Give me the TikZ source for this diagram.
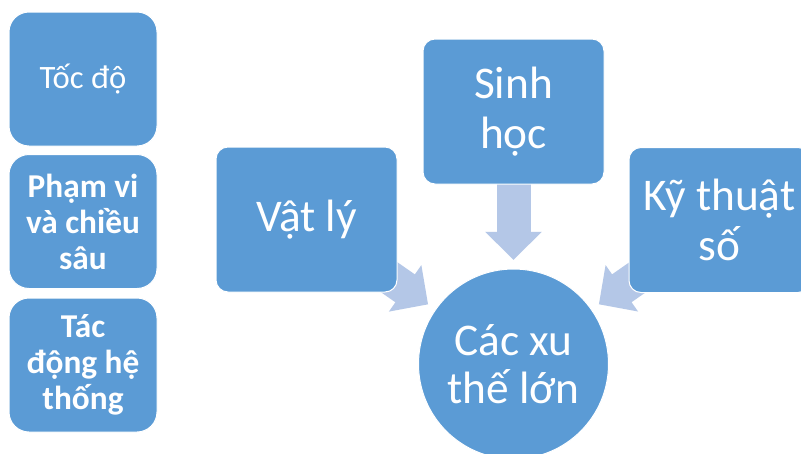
\documentclass[tikz,border=0pt]{standalone}
\usepackage{fontspec}
\setmainfont{Carlito}
\usetikzlibrary{arrows.meta,backgrounds}
\definecolor{boxblue}{HTML}{5B9BD5}
\definecolor{arrowblue}{HTML}{B4C7E7}
\begin{document}
\begin{tikzpicture}[x=0.75pt,y=-0.75pt,
  smallbox/.style={rectangle, rounded corners=15pt, fill=boxblue, draw=white, line width=0.75pt,
    minimum width=111pt, minimum height=100.5pt, text=white, align=center, inner sep=0pt,
    font=\fontsize{24.5}{27}\selectfont},
  boldbox/.style={smallbox, font=\fontsize{25}{27}\selectfont\bfseries},
  bigbox/.style={rectangle, rounded corners=9pt, fill=boxblue, draw=white, line width=0.75pt,
    minimum width=135.75pt, minimum height=108.75pt, text=white, align=center, inner sep=0pt,
    font=\fontsize{34}{37.5}\selectfont},
  bigcircle/.style={circle, fill=boxblue, draw=white, line width=0.75pt, minimum size=142.5pt,
    text=white, align=center, inner sep=0pt, font=\fontsize{34}{36}\selectfont},
  blockarrow/.style={draw=arrowblue, line width=25.5pt,
    -{Triangle[width=41.25pt,length=21pt,fill=arrowblue]}, shorten >=6.5pt}
]
\useasboundingbox (0,0) rectangle (801,454);
\clip (0,0) rectangle (801,454);

% left column
\node[smallbox] (toc) at (83,79) {Tốc độ};
\node[boldbox] (pham) at (83,221.5) {Phạm vi\\và chiều\\sâu};
\node[boldbox] (tac) at (83,365) {Tác\\động hệ\\thống};

% main diagram
\node[bigbox] (sinh) at (513.5,111.5) {Sinh\\học};
\node[bigbox] (vatly) at (306.5,219.5) {Vật lý};
\node[bigbox] (kythuat) at (719.5,220) {Kỹ thuật\\số};
\node[bigcircle] (xuthe) at (513.5,364) {Các xu\\thế lớn};

\begin{pgfonlayer}{background}
  \fill[white] (0,0) rectangle (801,454);
  \draw[blockarrow, shorten <=30pt] (sinh.center) -- (xuthe);
  \draw[blockarrow, shorten <=45pt] (vatly.center) -- (xuthe);
  \draw[blockarrow, shorten <=45pt] (kythuat.center) -- (xuthe);
\end{pgfonlayer}
\end{tikzpicture}
\end{document}
